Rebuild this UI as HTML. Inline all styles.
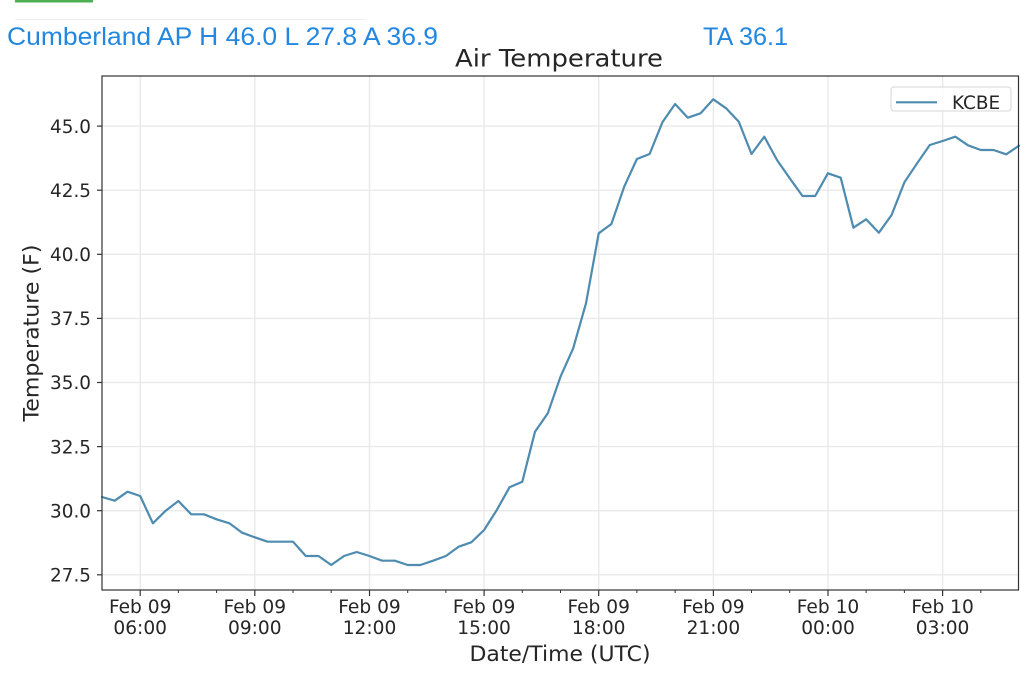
<!DOCTYPE html>
<html>
<head>
<meta charset="utf-8">
<style>
html,body{margin:0;padding:0;background:#fff;}
body{width:1024px;height:683px;overflow:hidden;}
svg{display:block;}
</style>
</head>
<body>
<svg width="1024" height="683" viewBox="0 0 1024 683" xmlns="http://www.w3.org/2000/svg">
<rect x="0" y="0" width="1024" height="683" fill="#ffffff"/>
<!-- top bits -->
<rect x="15" y="0" width="78" height="2.5" fill="#4caf50"/>
<line x1="15" y1="19.5" x2="366" y2="19.5" stroke="#eeeeee" stroke-width="1"/>
<text x="7" y="45" font-family="Liberation Sans, Arial, sans-serif" font-size="25" fill="#2287e0" textLength="431" lengthAdjust="spacingAndGlyphs">Cumberland AP H 46.0 L 27.8 A 36.9</text>
<text x="703" y="45" font-family="Liberation Sans, Arial, sans-serif" font-size="25" fill="#2287e0" textLength="85" lengthAdjust="spacingAndGlyphs">TA 36.1</text>

<!-- title -->
<text x="559" y="66.7" text-anchor="middle" font-family="DejaVu Sans, sans-serif" font-size="24.3" fill="#262626" textLength="208" lengthAdjust="spacingAndGlyphs">Air Temperature</text>

<!-- grid -->
<g stroke="#e9e9e9" stroke-width="1.4">
<line x1="140.2" y1="76" x2="140.2" y2="590"/>
<line x1="254.8" y1="76" x2="254.8" y2="590"/>
<line x1="369.5" y1="76" x2="369.5" y2="590"/>
<line x1="484.1" y1="76" x2="484.1" y2="590"/>
<line x1="598.7" y1="76" x2="598.7" y2="590"/>
<line x1="713.4" y1="76" x2="713.4" y2="590"/>
<line x1="828" y1="76" x2="828" y2="590"/>
<line x1="942.6" y1="76" x2="942.6" y2="590"/>
<line x1="102" y1="574.8" x2="1018.5" y2="574.8"/>
<line x1="102" y1="510.7" x2="1018.5" y2="510.7"/>
<line x1="102" y1="446.6" x2="1018.5" y2="446.6"/>
<line x1="102" y1="382.5" x2="1018.5" y2="382.5"/>
<line x1="102" y1="318.4" x2="1018.5" y2="318.4"/>
<line x1="102" y1="254.3" x2="1018.5" y2="254.3"/>
<line x1="102" y1="190.2" x2="1018.5" y2="190.2"/>
<line x1="102" y1="126.1" x2="1018.5" y2="126.1"/>
</g>

<!-- data line -->
<polyline fill="none" stroke="#4e8bb0" stroke-width="2.2" stroke-linejoin="round" stroke-linecap="round" points="
102,497 114.7,500.7 127.5,491.7 140.2,496 152.9,523.3 165.7,510.7 178.4,501 191.2,514.3 203.9,514.3 216.6,519.3 229.4,523.3 242.1,532.7 254.8,537.3 267.6,541.7 280.3,541.7 293,541.7 305.8,556 318.5,556 331.2,565 344,556 356.7,552 369.5,556 382.2,560.7 394.9,560.7 407.7,565 420.4,565 433.1,560.7 445.9,556 458.6,546.7 471.3,542.3 484.1,530 496.8,510 509.5,487.3 522.3,481.7 535,431.7 547.8,413.3 560.5,376.7 573.2,348.3 586,303.3 598.7,233.3 611.4,224 624.2,186.7 636.9,159 649.6,154 662.4,122.3 675.1,104 687.8,117.7 700.6,113.3 713.3,99.3 726.1,108.3 738.8,121.7 751.5,154 764.3,136.7 777,160 789.7,178.3 802.5,196 815.2,196 827.9,173.3 840.7,177.7 853.4,227.7 866.1,219.3 878.9,232.7 891.6,215 904.4,182.3 917.1,163.3 929.8,145 942.6,141 955.3,136.7 968,145.3 980.8,150 993.5,150 1006.2,154.3 1019,145.7"/>

<!-- spines -->
<rect x="102" y="76" width="916.5" height="514" fill="none" stroke="#333333" stroke-width="1.2"/>

<!-- y ticks -->
<g stroke="#333333" stroke-width="1.2">
<line x1="97" y1="574.8" x2="102" y2="574.8"/>
<line x1="97" y1="510.7" x2="102" y2="510.7"/>
<line x1="97" y1="446.6" x2="102" y2="446.6"/>
<line x1="97" y1="382.5" x2="102" y2="382.5"/>
<line x1="97" y1="318.4" x2="102" y2="318.4"/>
<line x1="97" y1="254.3" x2="102" y2="254.3"/>
<line x1="97" y1="190.2" x2="102" y2="190.2"/>
<line x1="97" y1="126.1" x2="102" y2="126.1"/>
<!-- x major ticks -->
<line x1="140.2" y1="590" x2="140.2" y2="596"/>
<line x1="254.8" y1="590" x2="254.8" y2="596"/>
<line x1="369.5" y1="590" x2="369.5" y2="596"/>
<line x1="484.1" y1="590" x2="484.1" y2="596"/>
<line x1="598.7" y1="590" x2="598.7" y2="596"/>
<line x1="713.4" y1="590" x2="713.4" y2="596"/>
<line x1="828" y1="590" x2="828" y2="596"/>
<line x1="942.6" y1="590" x2="942.6" y2="596"/>
</g>
<g stroke="#333333" stroke-width="1">
<line x1="178.4" y1="590" x2="178.4" y2="593"/>
<line x1="216.6" y1="590" x2="216.6" y2="593"/>
<line x1="293" y1="590" x2="293" y2="593"/>
<line x1="331.2" y1="590" x2="331.2" y2="593"/>
<line x1="407.7" y1="590" x2="407.7" y2="593"/>
<line x1="445.9" y1="590" x2="445.9" y2="593"/>
<line x1="522.3" y1="590" x2="522.3" y2="593"/>
<line x1="560.5" y1="590" x2="560.5" y2="593"/>
<line x1="636.9" y1="590" x2="636.9" y2="593"/>
<line x1="675.1" y1="590" x2="675.1" y2="593"/>
<line x1="751.5" y1="590" x2="751.5" y2="593"/>
<line x1="789.7" y1="590" x2="789.7" y2="593"/>
<line x1="866.1" y1="590" x2="866.1" y2="593"/>
<line x1="904.4" y1="590" x2="904.4" y2="593"/>
<line x1="980.8" y1="590" x2="980.8" y2="593"/>
</g>

<!-- y tick labels -->
<g font-family="DejaVu Sans, sans-serif" font-size="18.4" fill="#262626" text-anchor="end">
<text x="91" y="581.5">27.5</text>
<text x="91" y="517.4">30.0</text>
<text x="91" y="453.3">32.5</text>
<text x="91" y="389.2">35.0</text>
<text x="91" y="325.1">37.5</text>
<text x="91" y="261">40.0</text>
<text x="91" y="196.9">42.5</text>
<text x="91" y="132.8">45.0</text>
</g>

<!-- x tick labels -->
<g font-family="DejaVu Sans, sans-serif" font-size="18.6" fill="#262626" text-anchor="middle">
<text x="140.2" y="613">Feb 09</text><text x="140.2" y="634">06:00</text>
<text x="254.8" y="613">Feb 09</text><text x="254.8" y="634">09:00</text>
<text x="369.5" y="613">Feb 09</text><text x="369.5" y="634">12:00</text>
<text x="484.1" y="613">Feb 09</text><text x="484.1" y="634">15:00</text>
<text x="598.7" y="613">Feb 09</text><text x="598.7" y="634">18:00</text>
<text x="713.4" y="613">Feb 09</text><text x="713.4" y="634">21:00</text>
<text x="828" y="613">Feb 10</text><text x="828" y="634">00:00</text>
<text x="942.6" y="613">Feb 10</text><text x="942.6" y="634">03:00</text>
</g>

<!-- axis labels -->
<text x="560" y="661" text-anchor="middle" font-family="DejaVu Sans, sans-serif" font-size="21.5" fill="#262626" textLength="181" lengthAdjust="spacingAndGlyphs">Date/Time (UTC)</text>
<text transform="translate(38.5,333) rotate(-90)" x="0" y="0" text-anchor="middle" font-family="DejaVu Sans, sans-serif" font-size="21.5" fill="#262626" textLength="177" lengthAdjust="spacingAndGlyphs">Temperature (F)</text>

<!-- legend -->
<rect x="891" y="87" width="120" height="24" rx="3" ry="3" fill="#ffffff" fill-opacity="0.85" stroke="#d6d6d6" stroke-width="1"/>
<line x1="896" y1="102.3" x2="937" y2="102.3" stroke="#4e8bb0" stroke-width="2.2"/>
<text x="952" y="108.8" font-family="DejaVu Sans, sans-serif" font-size="18.4" fill="#262626">KCBE</text>
</svg>
</body>
</html>
